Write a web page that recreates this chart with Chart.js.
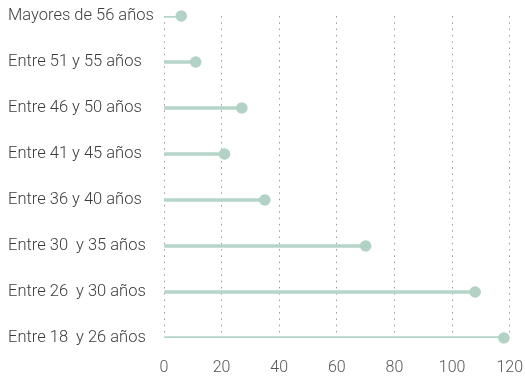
<!DOCTYPE html>
<html>
<head>
<meta charset="utf-8">
<script src="https://cdn.jsdelivr.net/npm/chart.js@4/dist/chart.umd.min.js"></script>
<style>
  html, body { margin: 0; padding: 0; background: #fff; }
  #wrap { width: 525px; height: 381px; position: relative; }
</style>
</head>
<body>
<div id="wrap"><canvas id="edades"></canvas></div>
<script>
// Grupos de edad, de mayor a menor
const grupos = [
    'Mayores de 56 años',
    'Entre 51 y 55 años',
    'Entre 46 y 50 años',
    'Entre 41 y 45 años',
    'Entre 36 y 40 años',
    'Entre 30  y 35 años',
    'Entre 26  y 30 años',
    'Entre 18  y 26 años',
];
const personas = [6, 11, 27, 21, 35, 70, 108, 118];
const ticksX = [0, 20, 40, 60, 80, 100, 120];

const verde = '#b6d5c9';

const ctx = document.getElementById('edades').getContext('2d');

new Chart(ctx, {
    type: 'bar',
    data: {
        labels: grupos,
        datasets: [
            {
                // palitos
                type: 'bar',
                indexAxis: 'y',
                data: personas,
                backgroundColor: verde,
                barThickness: 2.6,
                order: 1,
            },
            {
                // puntas
                type: 'line',
                indexAxis: 'y',
                data: personas,
                showLine: false,
                pointRadius: 5.8,
                pointBackgroundColor: '#b1d2c5',
                pointBorderWidth: 0,
                order: 0,
            },
        ],
    },
    options: {
        indexAxis: 'y',
        responsive: true,
        maintainAspectRatio: false,
        animation: false,
        layout: { padding: { left: 8, top: 16, right: 0, bottom: 0 } },
        plugins: {
            legend: { display: false },
            tooltip: { enabled: false },
        },
        scales: {
            x: {
                min: ticksX[0],
                max: ticksX[ticksX.length - 1],
                afterBuildTicks: (axis) => { axis.ticks = ticksX.map(v => ({ value: v })); },
                afterFit: (axis) => { axis.height = 43; },
                // tickLength sirve de margen entre el área y los números
                grid: { color: '#9a9a9a', lineWidth: 1, drawTicks: true, tickLength: 18, tickColor: '#ffffff' },
                border: { display: false, dash: [1.5, 4.8] },
                ticks: {
                    padding: 2,
                    color: '#555',
                    font: { family: 'Roboto', weight: 300, size: 16 },
                },
            },
            y: {
                offset: false,
                afterFit: (axis) => { axis.width = 156; },
                grid: { display: false },
                border: { display: false },
                ticks: {
                    crossAlign: 'far',
                    color: '#3c3c3c',
                    font: { family: 'Roboto', weight: 300, size: 16.5 },
                },
            },
        },
    },
});
</script>
</body>
</html>
